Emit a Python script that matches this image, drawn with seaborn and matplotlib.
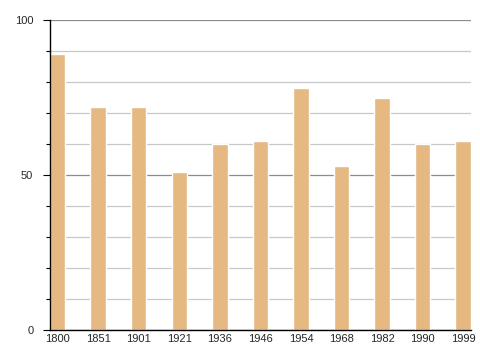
"""Bar chart of values by year."""

import matplotlib
matplotlib.use("Agg")
import matplotlib.pyplot as plt
import seaborn as sns
import pandas as pd
from matplotlib.ticker import MultipleLocator

years = ["1800", "1851", "1901", "1921", "1936", "1946", "1954", "1968", "1982", "1990", "1999"]
values = [89, 72, 72, 51, 60, 61, 78, 53, 75, 60, 61]

df = pd.DataFrame({"year": years, "value": values})

sns.set_style("white")
plt.rcParams["font.family"] = ["Liberation Sans", "DejaVu Sans"]

fig = plt.figure(figsize=(4.8, 3.6), dpi=100)
ax = fig.add_axes([0.104, 0.083, 0.877, 0.861])

sns.barplot(data=df, x="year", y="value", color="#e6b882", saturation=1,
            width=0.38, ax=ax, zorder=2)

ax.set_ylim(0, 100)
ax.set_xlim(-0.19, len(years) - 1 + 0.19)
ax.yaxis.set_major_locator(MultipleLocator(50))
ax.yaxis.set_minor_locator(MultipleLocator(10))
ax.grid(which="minor", axis="y", color="#c8c8c8", linewidth=0.9, zorder=0)
ax.grid(which="major", axis="y", color="#8c8c8c", linewidth=0.9, zorder=0)
ax.set_axisbelow(True)

for side in ["top", "right"]:
    ax.spines[side].set_visible(False)
for side in ["left", "bottom"]:
    ax.spines[side].set_color("black")
    ax.spines[side].set_linewidth(1)
    ax.spines[side].set_zorder(5)

ax.tick_params(axis="y", which="major", direction="out", length=5, width=0.8,
               color="black", left=True, labelsize=8, pad=7)
ax.tick_params(axis="y", which="minor", direction="out", length=3, width=0.8,
               color="black", left=True)
ax.tick_params(axis="x", length=0, labelsize=8, pad=3)
ax.set_xlabel("")
ax.set_ylabel("")

fig.savefig("out.png", dpi=100)
